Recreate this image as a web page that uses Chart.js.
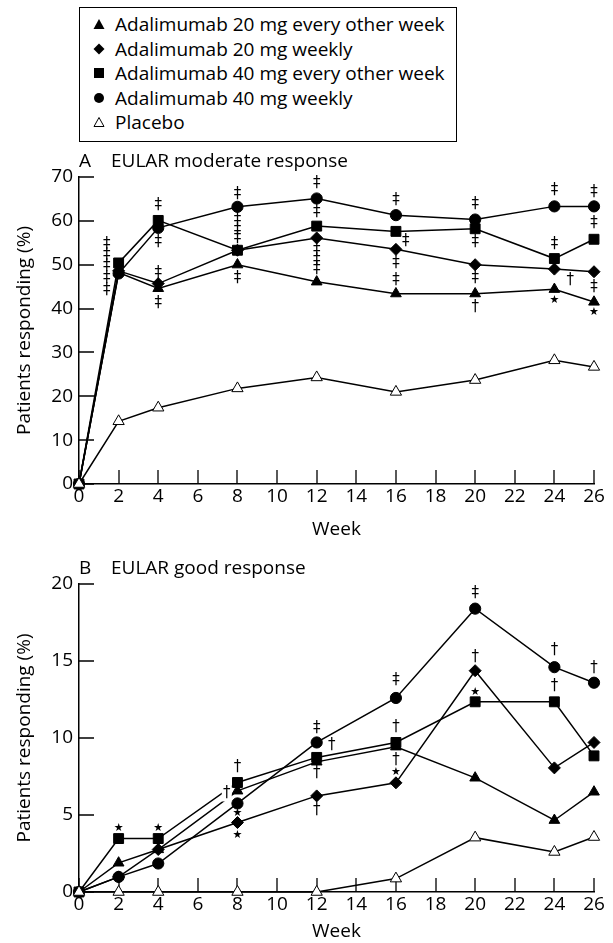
<!DOCTYPE html>
<html>
<head>
<meta charset="utf-8">
<script src="https://cdn.jsdelivr.net/npm/chart.js@4.4.1/dist/chart.umd.min.js"></script>
<style>
html,body{margin:0;padding:0;background:#fff;}
#wrap{position:relative;width:613px;height:943px;overflow:hidden;background:#fff;font-family:"Open Sans",sans-serif;color:#000;}
canvas{position:absolute;left:0;}
#cA{top:0;}
#cB{top:545px;}
#legend{position:absolute;left:79px;top:7px;width:378px;height:135px;border:1px solid #000;box-sizing:border-box;z-index:2;background:#fff;}
.row{position:absolute;left:0;height:24px;line-height:24px;font-size:19px;white-space:nowrap;}
.row svg{position:absolute;left:13px;top:6px;}
.row span{position:absolute;left:35px;top:0;}
</style>
</head>
<body>
<div id="wrap">
  <canvas id="cA" width="613" height="545"></canvas>
  <canvas id="cB" width="613" height="398"></canvas>
  <div id="legend"></div>
</div>
<script>
// ---------- data ----------
const weeks = [0, 2, 4, 8, 12, 16, 20, 24, 26];
const seriesNames = [
  "Adalimumab 20 mg every other week",
  "Adalimumab 20 mg weekly",
  "Adalimumab 40 mg every other week",
  "Adalimumab 40 mg weekly",
  "Placebo"
];
// A: EULAR moderate response (%)
const modAda20eow = [0, 48.2, 44.6, 50.0, 46.1, 43.4, 43.4, 44.4, 41.5];
const modAda20w   = [0, 48.6, 45.7, 53.3, 56.1, 53.5, 50.0, 49.0, 48.4];
const modAda40eow = [0, 50.4, 60.1, 53.3, 58.8, 57.6, 58.2, 51.4, 55.8];
const modAda40w   = [0, 48.0, 58.4, 63.2, 65.1, 61.3, 60.3, 63.3, 63.3];
const modPlacebo  = [0, 14.3, 17.4, 21.8, 24.3, 21.0, 23.7, 28.2, 26.7];
// B: EULAR good response (%)
const goodAda20eow = [0, 1.89, 2.76, 6.57, 8.45, 9.43, 7.41, 4.66, 6.5];
const goodAda20w   = [0, 0.98, 2.76, 4.51, 6.24, 7.09, 14.37, 8.06, 9.71];
const goodAda40eow = [0, 3.47, 3.47, 7.11, 8.74, 9.71, 12.35, 12.35, 8.84];
const goodAda40w   = [0, 0.98, 1.85, 5.75, 9.71, 12.6, 18.4, 14.6, 13.59];
const goodPlacebo  = [0, 0, 0, 0, 0, 0.87, 3.53, 2.6, 3.57];
// significance marks: [week, value, symbol]
const sigA = [
  [1.4,54.8,"‡"],[1.4,52.2,"‡"],[1.4,49.6,"‡"],[1.4,46.9,"‡"],[1.4,44.3,"‡"],
  [4,63.6,"‡"],[4,55.2,"‡"],[4,48.1,"‡"],[4,41.2,"‡"],
  [8,66.2,"‡"],[8,60.1,"‡"],[8,57.9,"‡"],[8,56.0,"‡"],[8,46.9,"‡"],
  [12,68.5,"‡"],[12,62.0,"‡"],[12,53.3,"‡"],[12,51.0,"‡"],[12,49.1,"‡"],
  [16,64.7,"‡"],[16.5,55.4,"‡"],[16,50.3,"‡"],[16,46.5,"‡"],
  [20,63.9,"‡"],[20,55.2,"‡"],[20,46.9,"‡"],[20,40.4,"†"],
  [24,67.0,"‡"],[24,54.7,"‡"],[24.8,46.5,"†"],[24,41.9,"★"],
  [26,66.6,"‡"],[26,59.4,"‡"],[26,44.9,"‡"],[26,39.2,"★"]
];
const sigB = [
  [2,4.12,"★"],[4,4.12,"★"],
  [7.46,6.40,"†",1],[8,8.12,"†"],[8,5.13,"★"],[8,3.69,"★"],
  [12,10.62,"‡"],[12.76,9.54,"†"],[12,7.70,"†"],[12,5.31,"†"],
  [16,13.76,"‡"],[16,10.72,"†"],[16,8.56,"†"],[16,7.76,"★"],
  [20,19.4,"‡"],[20,15.27,"†"],[20,13.0,"★"],
  [24,15.71,"†"],[24,13.37,"†"],
  [26,14.52,"†"]
];
const xTicksMax = 26;

// ---------- helpers ----------
const FONT = '"Open Sans", sans-serif';
const FS = 19;
const pts = arr => arr.map((v, i) => ({x: weeks[i], y: v}));
const styles = [
  {pointStyle:'triangle', radius:6.2, fill:'#000'},
  {pointStyle:'rectRot',  radius:6,   fill:'#000'},
  {pointStyle:'rect',     radius:7,   fill:'#000'},
  {pointStyle:'circle',   radius:5.6, fill:'#000'},
  {pointStyle:'triangle', radius:6.5, fill:'#fff'}
];
function makeDatasets(list){
  return list.map((arr, i) => ({
    label: seriesNames[i],
    data: pts(arr),
    borderColor:'#000',
    borderWidth:1.5,
    tension:0,
    pointStyle: styles[i].pointStyle,
    pointRadius: styles[i].radius,
    pointHoverRadius: styles[i].radius,
    pointBackgroundColor: styles[i].fill,
    pointBorderColor:'#000',
    pointBorderWidth:1,
    clip:false
  })).reverse();
}
function decor(letter, title, sig){
  return {
    id:'decor'+letter,
    beforeDatasetsDraw(chart){
      const {ctx, chartArea:ca, scales:{x, y}} = chart;
      ctx.save();
      ctx.strokeStyle = '#000'; ctx.lineWidth = 1.3;
      ctx.beginPath();
      x.ticks.forEach(t => { const px = Math.round(x.getPixelForValue(t.value)); ctx.moveTo(px, ca.bottom); ctx.lineTo(px, ca.bottom - 14); });
      y.ticks.forEach(t => { const py = Math.round(y.getPixelForValue(t.value)); ctx.moveTo(ca.left, py); ctx.lineTo(ca.left + 15, py); });
      ctx.stroke();
      ctx.fillStyle = '#000';
      ctx.font = FS + 'px ' + FONT;
      ctx.textBaseline = 'middle'; ctx.textAlign = 'left';
      ctx.fillText(letter, ca.left, ca.top - 15);
      ctx.fillText(title, ca.left + 32, ca.top - 15);
      ctx.restore();
    },
    afterDatasetsDraw(chart){
      const {ctx, scales:{x, y}} = chart;
      ctx.save();
      ctx.textAlign = 'center'; ctx.textBaseline = 'middle';
      sig.forEach(([w, v, s, bg]) => {
        const px = x.getPixelForValue(w), py = y.getPixelForValue(v);
        if (bg) { ctx.fillStyle = '#fff'; ctx.fillRect(px - 5, py - 8, 10, 16); }
        ctx.fillStyle = '#000';
        ctx.font = (s === '★' ? '11px' : '15px') + ' "DejaVu Sans"';
        ctx.fillText(s, px, py);
      });
      ctx.restore();
    }
  };
}
function makeChart(id, letter, title, series, yMax, yStep, sig, padTop, xHeight, xTitlePad){
  return new Chart(document.getElementById(id), {
    type:'line',
    data:{datasets: makeDatasets(series)},
    options:{
      responsive:false, animation:false,
      layout:{padding:{top:padTop, left:0, right:19, bottom:0}},
      plugins:{legend:{display:false}, tooltip:{enabled:false}, title:{display:false}},
      scales:{
        x:{type:'linear', min:0, max:xTicksMax,
           ticks:{stepSize:2, color:'#000', font:{family:FONT, size:FS}, padding:1, maxRotation:0},
           grid:{display:false, drawTicks:false},
           border:{display:true, color:'#000', width:1.5},
           title:{display:true, text:'Week', color:'#000', font:{family:FONT, size:FS}, padding:{top:0, bottom:xTitlePad}},
           afterFit: s => { s.height = xHeight; }},
        y:{type:'linear', min:0, max:yMax,
           ticks:{stepSize:yStep, color:'#000', font:{family:FONT, size:FS}, padding:6},
           grid:{display:false, drawTicks:false},
           border:{display:true, color:'#000', width:1.5},
           title:{display:true, text:'Patients responding (%)', color:'#000', font:{family:FONT, size:FS}, padding:{top:13, bottom:0}},
           afterFit: s => { s.width = 79; }}
      }
    },
    plugins:[decor(letter, title, sig)]
  });
}
makeChart('cA', 'A', 'EULAR moderate response',
  [modAda20eow, modAda20w, modAda40eow, modAda40w, modPlacebo], 70, 10, sigA, 177, 61, 4);
makeChart('cB', 'B', 'EULAR good response',
  [goodAda20eow, goodAda20w, goodAda40eow, goodAda40w, goodPlacebo], 20, 5, sigB, 39, 51, 0);

// ---------- legend ----------
const legendSvgs = [
  '<svg width="12" height="12"><polygon points="6,1 11.5,11 0.5,11" fill="#000"/></svg>',
  '<svg width="12" height="12"><polygon points="6,0.5 11.5,6 6,11.5 0.5,6" fill="#000"/></svg>',
  '<svg width="12" height="12"><rect x="1" y="1" width="10" height="10" fill="#000"/></svg>',
  '<svg width="12" height="12"><circle cx="6" cy="6" r="5" fill="#000"/></svg>',
  '<svg width="12" height="12"><polygon points="6,1.5 11,10.5 1,10.5" fill="#fff" stroke="#000" stroke-width="1"/></svg>'
];
const lg = document.getElementById('legend');
seriesNames.forEach((n, i) => {
  const r = document.createElement('div');
  r.className = 'row';
  r.style.top = (4 + i * 24.5) + 'px';
  r.innerHTML = legendSvgs[i] + '<span>' + n + '</span>';
  lg.appendChild(r);
});
</script>
</body>
</html>
